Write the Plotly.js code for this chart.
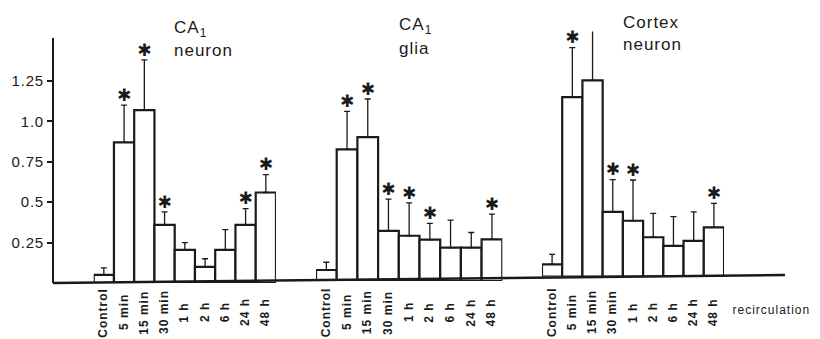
<!DOCTYPE html>
<html>
<head>
<meta charset="utf-8">
<script src="https://cdn.plot.ly/plotly-3.0.1.min.js"></script>
<style>
html,body{margin:0;padding:0;background:#fff;}
#chart{width:820px;height:339px;}
#chart .annotation-text{letter-spacing:1px;}
#chart .ytick text{letter-spacing:0.8px;}
</style>
</head>
<body>
<div id="chart"></div>
<script>
// Categories (same for the three panels)
const categories = ["Control", "5 min", "15 min", "30 min", "1 h", "2 h", "6 h", "24 h", "48 h"];

// CA1 neuron
const ca1NeuronMean = [0.05, 0.87, 1.07, 0.36, 0.205, 0.10, 0.205, 0.36, 0.56];
const ca1NeuronErrTop = [0.094, 1.10, 1.38, 0.44, 0.25, 0.15, 0.33, 0.46, 0.67];
const ca1NeuronSig = [0, 1, 1, 1, 0, 0, 0, 1, 1];

// CA1 glia
const ca1GliaMean = [0.068, 0.815, 0.89, 0.31, 0.28, 0.256, 0.206, 0.206, 0.257];
const ca1GliaErrTop = [0.116, 1.05, 1.126, 0.507, 0.483, 0.357, 0.377, 0.30, 0.414];
const ca1GliaSig = [0, 1, 1, 1, 1, 1, 0, 0, 1];

// Cortex neuron
const cortexMean = [0.075, 1.11, 1.214, 0.40, 0.345, 0.243, 0.19, 0.22, 0.304];
const cortexErrTop = [0.137, 1.416, 1.55, 0.60, 0.597, 0.39, 0.37, 0.40, 0.453];
const cortexSig = [0, 1, 1, 1, 1, 0, 0, 0, 1];

const yTickVals = [0.25, 0.5, 0.75, 1.0, 1.25];
const yTickText = ["0.25", "0.5", "0.75", "1.0", "1.25"];

const ink = "#1a1a1a";
const fontFam = "Liberation Sans, Arial, Helvetica, sans-serif";

function panel(mean, errTop, sig, xa, ya) {
  const bar = {
    type: "bar", x: categories, y: mean, xaxis: xa, yaxis: ya,
    width: 1,
    marker: { color: "#ffffff", line: { color: ink, width: 2.2 } },
    error_y: {
      type: "data", symmetric: false,
      array: errTop.map((e, i) => e - mean[i]),
      arrayminus: mean.map(() => 0),
      color: ink, thickness: 1.3, width: 3
    },
    hoverinfo: "skip", showlegend: false
  };
  const stars = {
    type: "scatter", mode: "text", x: categories,
    y: errTop, xaxis: xa, yaxis: ya,
    text: sig.map(s => s ? "✱" : ""),
    textposition: "top center",
    textfont: { family: "DejaVu Sans", size: 17, color: ink },
    hoverinfo: "skip", showlegend: false, cliponaxis: false
  };
  return [bar, stars];
}

const data = [
  ...panel(ca1NeuronMean, ca1NeuronErrTop, ca1NeuronSig, "x", "y"),
  ...panel(ca1GliaMean, ca1GliaErrTop, ca1GliaSig, "x2", "y2"),
  ...panel(cortexMean, cortexErrTop, cortexSig, "x3", "y3")
];

const H = 0.9316, yr = [0, 1.516];
function xax(dom, anchor) {
  return {
    type: "category", domain: dom, anchor: anchor, range: [-0.5, 8.5],
    showline: false, showgrid: false, zeroline: false, ticks: "",
    showticklabels: false, fixedrange: true
  };
}
function yaxHidden(b, anchor) {
  return { domain: [b, b + H], range: yr, anchor: anchor, visible: false, showgrid: false, zeroline: false, fixedrange: true };
}

// category tick labels drawn as rotated annotations, centred under each bar
function catLabels(xref) {
  return categories.map(c => ({
    xref: xref, yref: "paper", x: c, y: -0.112, xanchor: "center", yanchor: "middle",
    text: c, textangle: -90, showarrow: false,
    font: { family: fontFam, size: 12, color: ink, weight: "bold" }
  }));
}
function titleLine(x, y, text) {
  return { xref: "paper", yref: "paper", x: x, y: y, xanchor: "left", yanchor: "middle", align: "left",
    text: text, showarrow: false, font: { family: fontFam, size: 17, color: ink } };
}

const layout = {
  width: 820, height: 339,
  margin: { l: 53, r: 35, t: 20, b: 56 },
  paper_bgcolor: "#ffffff", plot_bgcolor: "rgba(0,0,0,0)",
  bargap: 0, showlegend: false,
  font: { family: fontFam, color: ink },
  xaxis: xax([0.0556, 0.3046], "y"),
  xaxis2: xax([0.3593, 0.6138], "y2"),
  xaxis3: xax([0.668, 0.9167], "y3"),
  yaxis: {
    domain: [0, H], range: yr, anchor: "free", position: 0,
    showline: true, linecolor: ink, linewidth: 2.2,
    ticks: "outside", ticklen: 5, tickwidth: 2, tickcolor: ink,
    tickvals: yTickVals, ticktext: yTickText,
    tickfont: { family: fontFam, size: 15, color: ink },
    showgrid: false, zeroline: false, fixedrange: true
  },
  yaxis2: yaxHidden(0.0076, "x2"),
  yaxis3: yaxHidden(0.0247, "x3"),
  shapes: [
    { type: "line", xref: "paper", yref: "paper", x0: 0, x1: 1, y0: 0, y1: 0.030,
      line: { color: ink, width: 2.5 } }
  ],
  annotations: [
    titleLine(0.1625, 0.966, "CA<sub>1</sub>"),
    titleLine(0.1625, 0.884, "neuron"),
    titleLine(0.4700, 0.976, "CA<sub>1</sub>"),
    titleLine(0.4700, 0.892, "glia"),
    titleLine(0.7765, 0.9913, "Cortex"),
    titleLine(0.7765, 0.9087, "neuron"),
    { xref: "paper", yref: "paper", x: 0.934, y: -0.1027, xanchor: "left", yanchor: "middle",
      text: "recirculation", showarrow: false, font: { family: fontFam, size: 12, color: ink } },
    ...catLabels("x"), ...catLabels("x2"), ...catLabels("x3")
  ]
};

Plotly.newPlot("chart", data, layout, { displayModeBar: false, staticPlot: true });
</script>
</body>
</html>
